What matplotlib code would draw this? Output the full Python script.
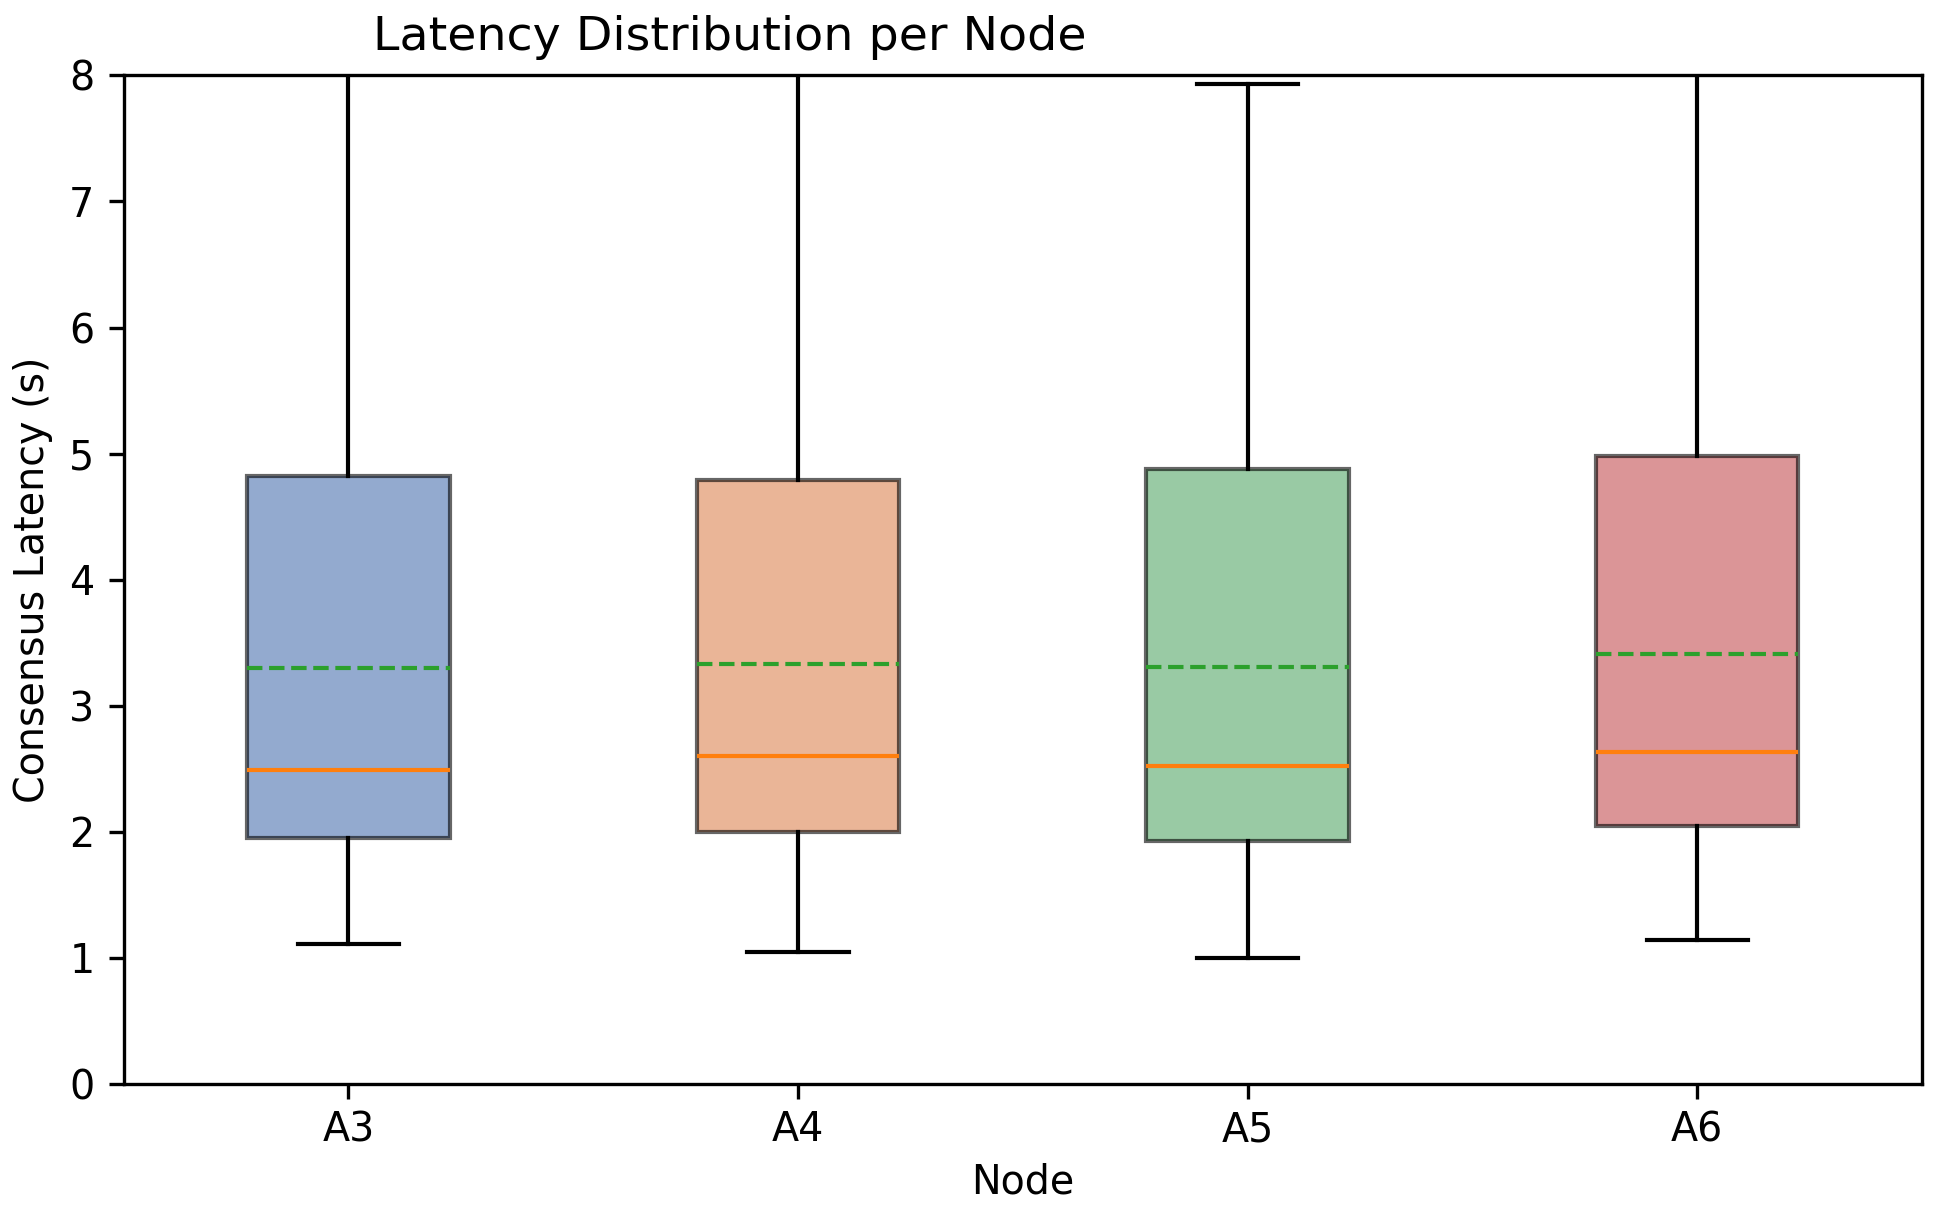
import matplotlib
matplotlib.use("Agg")
import matplotlib.pyplot as plt

# Box statistics (seconds)
nodes = ["A3", "A4", "A5", "A6"]
q1 = [1.95, 2.00, 1.93, 2.05]
medians = [2.49, 2.60, 2.52, 2.63]
q3 = [4.82, 4.79, 4.88, 4.98]
means = [3.30, 3.33, 3.31, 3.41]
whis_lo = [1.11, 1.05, 1.00, 1.14]
whis_hi = [9.3, 9.1, 7.93, 9.5]   # A3, A4, A6 run past the top of the axis

box_colors = ["#4C72B0", "#DD8452", "#55A868", "#C44E52"]

plt.rcParams["font.size"] = 9.5

stats = []
for i, name in enumerate(nodes):
    stats.append({"label": name, "q1": q1[i], "med": medians[i], "q3": q3[i],
                  "mean": means[i], "whislo": whis_lo[i], "whishi": whis_hi[i],
                  "fliers": []})

fig = plt.figure(figsize=(1938 / 300, 1210 / 300), dpi=300)
ax = fig.add_axes([123.6 / 1938, 1 - 1084 / 1210, (1922 - 123.6) / 1938, (1084 - 75.4) / 1210])

bp = ax.bxp(stats, widths=0.45, patch_artist=True, showmeans=True, meanline=True,
            showfliers=False)
for patch, c in zip(bp["boxes"], box_colors):
    patch.set_facecolor(c)
    patch.set_edgecolor("black")
    patch.set_alpha(0.6)

ax.set_ylim(0, 8)
ax.tick_params(axis="x", pad=2.8)
ax.set_xlabel("Node", labelpad=3)
ax.set_ylabel("Consensus Latency (s)")
ax.set_title("Latency Distribution per Node", x=0.337)

fig.savefig("out.png", dpi=300)
